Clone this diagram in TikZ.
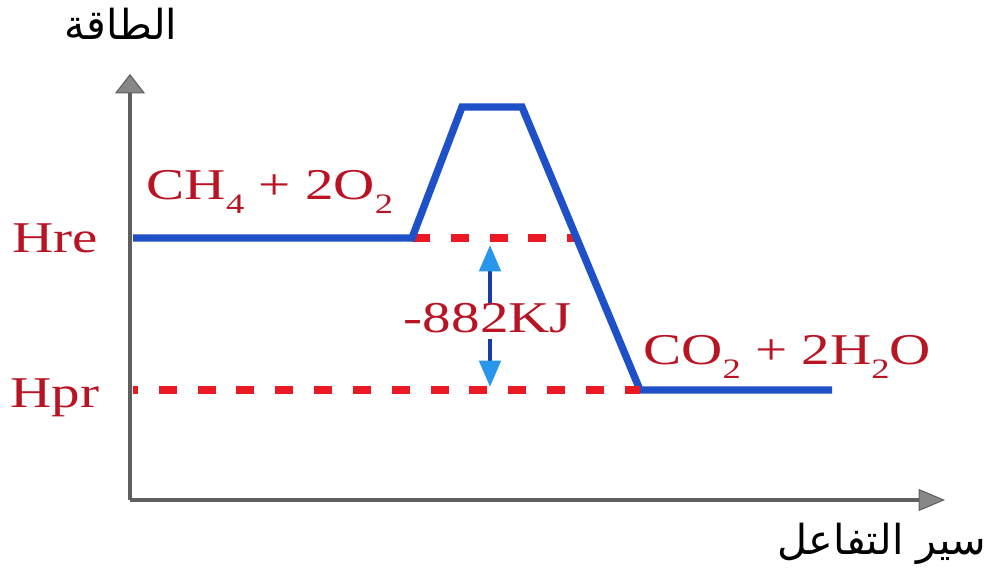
\documentclass[tikz,border=0pt]{standalone}
\usepackage{fontspec}
\setmainfont{Liberation Serif}
\newfontfamily\arabicfont[Script=Arabic]{DejaVu Sans}
\TeXXeTstate=1
\usetikzlibrary{arrows.meta, positioning}

\definecolor{axisgray}{RGB}{95,95,95}
\definecolor{tipgray}{RGB}{135,135,135}
\definecolor{curveblue}{RGB}{30,80,200}
\definecolor{levelred}{RGB}{235,25,35}
\definecolor{textred}{RGB}{185,20,35}
\definecolor{shaftblue}{RGB}{25,60,170}
\definecolor{tipblue}{RGB}{40,150,235}

% wide red labels and low subscripts
\newcommand{\widetext}[1]{\scalebox{1.3}[1]{#1}}
\newcommand{\chemsub}[1]{\raisebox{-7.5pt}{\fontsize{16}{16}\selectfont #1}}

\tikzset{
  axisline/.style={draw=axisgray, line width=2pt},
  ytipped/.style={-{Triangle[width=17pt,length=11pt,fill=tipgray,color=axisgray,line width=0.6pt]}},
  xtipped/.style={-{Triangle[width=12.5pt,length=15pt,fill=tipgray,color=axisgray,line width=0.6pt]}},
  profile/.style={draw=curveblue, line width=4.2pt, line join=miter},
  level/.style={draw=levelred, line width=4.4pt, dash pattern=on 10.2pt off 11.9pt},
  chem/.style={text=textred, font=\fontsize{25}{30}\selectfont, inner sep=0pt, anchor=base},
  arlabel/.style={font=\arabicfont\fontsize{23.5}{28}\selectfont, inner sep=0pt, anchor=base},
  dharrow/.style={draw=shaftblue, line width=2.6pt, -{Triangle[width=12pt,length=15pt,fill=tipblue,color=tipblue]}}
}

\begin{document}
\begin{tikzpicture}[x=0.02cm, y=-0.02cm]
    \useasboundingbox (0,0) rectangle (995,570);

    % axes
    \coordinate (origin) at (130,500);
    \coordinate (ytip) at (130,74);
    \coordinate (xtip) at (945,500);
    \draw[axisline, ytipped] (origin) -- (ytip);
    \draw[axisline, xtipped] (origin) -- (xtip);
    \node[arlabel] (energy) at (121,40) {\beginR الطاقة\endR};
    \node[arlabel] (progress) at (882,555) {\beginR سير التفاعل\endR};

    % energy profile
    \coordinate (r0) at (133,238);
    \coordinate (r1) at (412,238);
    \coordinate (ts0) at (462,107);
    \coordinate (ts1) at (522,107);
    \coordinate (p0) at (640,390);
    \coordinate (p1) at (832,390);
    \coordinate (reEnd) at (575,238);
    \coordinate (prStart) at (133,390);
    \draw[level] (r1) -- (reEnd);
    \draw[profile] (r0) -- (r1) -- (ts0) -- (ts1) -- (p0) -- (p1);
    \draw[level, dash phase=7.4pt] (prStart) -- (p0);

    % labels
    \node[chem] (hre) at (55,253) {\widetext{Hre}};
    \node[chem] (hpr) at (55,408) {\widetext{Hpr}};
    \node[chem] (reactants) at (270,200) {\widetext{CH\chemsub{4} + 2O\chemsub{2}}};
    \node[chem] (products) at (787,365) {\widetext{CO\chemsub{2} + 2H\chemsub{2}O}};
    \node[chem] (dH) at (488,333) {\widetext{-882KJ}};

    % enthalpy change
    \coordinate (dhTop) at (490,245);
    \coordinate (dhBot) at (490,387);
    \draw[dharrow] (dhTop |- dH.north) -- (dhTop);
    \draw[dharrow] ([yshift=-3pt]dhBot |- dH.south) -- (dhBot);
\end{tikzpicture}
\end{document}
